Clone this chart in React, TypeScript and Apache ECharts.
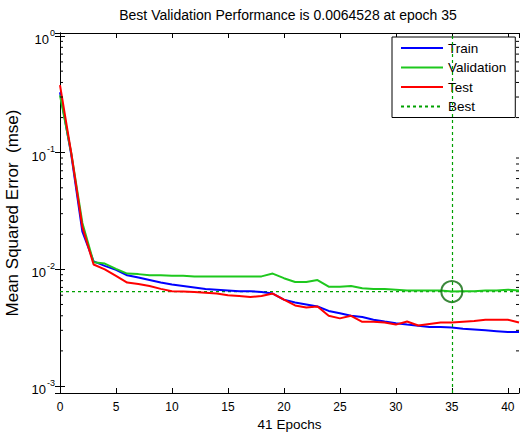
import React, { useEffect, useRef } from 'react';
import * as echarts from 'echarts';

const epochs = [0,1,2,3,4,5,6,7,8,9,10,11,12,13,14,15,16,17,18,19,20,21,22,23,24,25,26,27,28,29,30,31,32,33,34,35,36,37,38,39,40,41];

const trainValues = [0.33,0.097,0.021,0.0117,0.0107,0.0099,0.0089,0.0085,0.0081,0.0077,0.0074,0.0072,0.007,0.0068,0.0067,0.0066,0.0065,0.0065,0.0064,0.0062,0.0055,0.0052,0.005,0.0048,0.0044,0.0042,0.004,0.0039,0.0037,0.00357,0.00345,0.00336,0.00328,0.0032,0.0032,0.00318,0.0031,0.00305,0.003,0.00295,0.0029,0.0029];

const validationValues = [0.31,0.1,0.025,0.0115,0.0112,0.0101,0.0092,0.0091,0.0089,0.0089,0.0088,0.0088,0.0087,0.0087,0.0087,0.0087,0.0087,0.0087,0.0087,0.0092,0.0084,0.0078,0.0078,0.0081,0.0071,0.0071,0.0072,0.0069,0.0068,0.0068,0.0067,0.0066,0.0066,0.0066,0.0066,0.0064528,0.0065,0.0065,0.0066,0.0066,0.0067,0.0066];

const testValues = [0.38,0.1,0.023,0.011,0.01,0.0088,0.0077,0.0075,0.0072,0.0068,0.0065,0.00645,0.0064,0.0063,0.0062,0.006,0.0059,0.0058,0.0059,0.0062,0.0055,0.0049,0.0047,0.0048,0.004,0.0038,0.004,0.00355,0.00355,0.0035,0.00336,0.00357,0.0033,0.0034,0.0035,0.0035,0.00355,0.0036,0.0037,0.0037,0.0037,0.0035];

const bestEpoch = 35;
const bestValue = 0.0064528;

const xTicks = [0, 5, 10, 15, 20, 25, 30, 35, 40];
const yMajorTicks = [0.001, 0.01, 0.1, 1];
const yTickExponents = ['-3', '-2', '-1', '0'];
const yMinorTicks = [0.002,0.003,0.004,0.005,0.006,0.007,0.008,0.009,0.02,0.03,0.04,0.05,0.06,0.07,0.08,0.09,0.2,0.3,0.4,0.5,0.6,0.7,0.8,0.9];

const titleText = 'Best Validation Performance is 0.0064528 at epoch 35';
const xName = '41 Epochs';
const yName = 'Mean Squared Error  (mse)';

const X_MIN = 0;
const X_MAX = 41;
const Y_MIN = Math.pow(10, -3.06);
const Y_MAX = Math.pow(10, 0.026);

const FONT = '"Liberation Sans", Arial, Helvetica, sans-serif';
const BEST_COLOR = '#00a000';

export default function App() {
  const ref = useRef<HTMLDivElement>(null);
  useEffect(() => {
    document.body.style.margin = '0';
    if (!ref.current) return;
    const chart = echarts.init(ref.current, null, { renderer: 'svg' });
    const pair = (vals: number[]) => epochs.map((e, i) => [e, vals[i]]);
    const yLabel = (v: number) => {
      const idx = yMajorTicks.findIndex((t) => Math.abs(Math.log10(t) - Math.log10(v)) < 1e-6);
      if (idx < 0) return '';
      return `{b|10}{s|${yTickExponents[idx]}}`;
    };
    const axisLine = { show: true, lineStyle: { color: '#000', width: 1 } };
    const option: any = {
      animation: false,
      backgroundColor: '#fff',
      textStyle: { fontFamily: FONT },
      graphic: [
        {
          type: 'text',
          x: 288,
          y: 8,
          style: {
            text: titleText,
            textAlign: 'center',
            textVerticalAlign: 'top',
            font: `14px ${FONT}`,
            fill: '#000',
          },
        },
      ],
      grid: { left: 60, right: 1, top: 33, bottom: 39, containLabel: false, outerBoundsMode: 'none' },
      legend: {
        data: ['Train', 'Validation', 'Test', 'Best'],
        orient: 'vertical',
        left: 392,
        top: 37,
        itemWidth: 42,
        itemHeight: 14,
        itemGap: 5.5,
        padding: [4, 9, 4, 8],
        borderColor: '#000',
        borderWidth: 1,
        backgroundColor: '#fff',
        itemStyle: { opacity: 0 },
        textStyle: { fontSize: 13.5, color: '#000', fontFamily: FONT },
      },
      xAxis: [
        {
          type: 'value',
          min: X_MIN,
          max: X_MAX,
          interval: 5,
          position: 'bottom',
          name: xName,
          nameLocation: 'middle',
          nameGap: 21,
          nameTextStyle: { fontSize: 13.5, color: '#000', fontFamily: FONT },
          axisLine,
          axisTick: { show: true, inside: true, length: 5, lineStyle: { color: '#000' } },
          axisLabel: {
            fontSize: 12,
            color: '#000',
            margin: 8,
            fontFamily: FONT,
            formatter: (v: number) => (xTicks.includes(v) ? String(v) : ''),
          },
          splitLine: { show: false },
        },
        {
          type: 'value',
          min: X_MIN,
          max: X_MAX,
          interval: 5,
          position: 'top',
          axisLine,
          axisTick: { show: true, inside: true, length: 5, lineStyle: { color: '#000' } },
          axisLabel: { show: false },
          splitLine: { show: false },
        },
      ],
      yAxis: [
        {
          type: 'log',
          logBase: 10,
          min: Y_MIN,
          max: Y_MAX,
          position: 'left',
          name: yName,
          nameLocation: 'middle',
          nameGap: 36,
          nameTextStyle: { fontSize: 17, color: '#000', fontFamily: FONT },
          axisLine,
          axisTick: { show: true, inside: true, length: 5, lineStyle: { color: '#000' } },
          axisLabel: {
            color: '#000',
            margin: 5,
            formatter: yLabel,
            rich: {
              b: { fontSize: 13, color: '#000', fontFamily: FONT, padding: [7, 0, 0, 0] },
              s: { fontSize: 9, color: '#000', fontFamily: FONT, padding: [0, 0, 7, 1] },
            },
          },
          splitLine: { show: false },
          minorTick: { show: false },
        },
        {
          type: 'log',
          logBase: 10,
          min: Y_MIN,
          max: Y_MAX,
          position: 'right',
          axisLine,
          axisTick: { show: true, inside: true, length: 5, lineStyle: { color: '#000' } },
          axisLabel: { show: false },
          splitLine: { show: false },
        },
      ],
      series: [
        {
          name: 'Train',
          type: 'line',
          data: pair(trainValues),
          symbol: 'none',
          lineStyle: { color: '#0000ff', width: 2 },
          itemStyle: { color: '#0000ff' },
          z: 3,
        },
        {
          name: 'Validation',
          type: 'line',
          data: pair(validationValues),
          symbol: 'none',
          lineStyle: { color: '#1ec81e', width: 2 },
          itemStyle: { color: '#1ec81e' },
          z: 3,
        },
        {
          name: 'Test',
          type: 'line',
          data: pair(testValues),
          symbol: 'none',
          lineStyle: { color: '#ff0000', width: 2 },
          itemStyle: { color: '#ff0000' },
          z: 3,
        },
        {
          name: 'Best',
          type: 'line',
          data: [[X_MIN, bestValue], [X_MAX, bestValue]],
          symbol: 'none',
          lineStyle: { color: BEST_COLOR, width: 1.2, type: [3, 3] },
          itemStyle: { color: BEST_COLOR },
          z: 2,
          markLine: {
            silent: true,
            symbol: 'none',
            label: { show: false },
            lineStyle: { color: BEST_COLOR, width: 1.2, type: [3, 3], opacity: 1 },
            data: [{ xAxis: bestEpoch }],
          },
        },
        {
          name: 'BestMarker',
          type: 'scatter',
          data: [[bestEpoch, bestValue]],
          symbol: 'circle',
          symbolSize: 21,
          itemStyle: { color: 'rgba(0,0,0,0)', borderColor: '#0a6a0a', borderWidth: 2 },
          z: 4,
          silent: true,
        },
        {
          name: 'MinorTicks',
          type: 'custom',
          silent: true,
          clip: false,
          data: yMinorTicks.map((v) => [X_MIN, v]),
          encode: { x: 0, y: 1 },
          renderItem: (_params: any, api: any) => {
            const v = api.value(1);
            const l = api.coord([X_MIN, v]);
            const r = api.coord([X_MAX, v]);
            return {
              type: 'group',
              children: [
                { type: 'line', shape: { x1: l[0], y1: l[1], x2: l[0] + 3, y2: l[1] }, style: { stroke: '#000', lineWidth: 1 } },
                { type: 'line', shape: { x1: r[0] - 3, y1: r[1], x2: r[0], y2: r[1] }, style: { stroke: '#000', lineWidth: 1 } },
              ],
            };
          },
          z: 5,
        },
      ],
    };
    chart.setOption(option);
    return () => chart.dispose();
  }, []);
  return <div ref={ref} style={{ width: 520, height: 432 }} />;
}
